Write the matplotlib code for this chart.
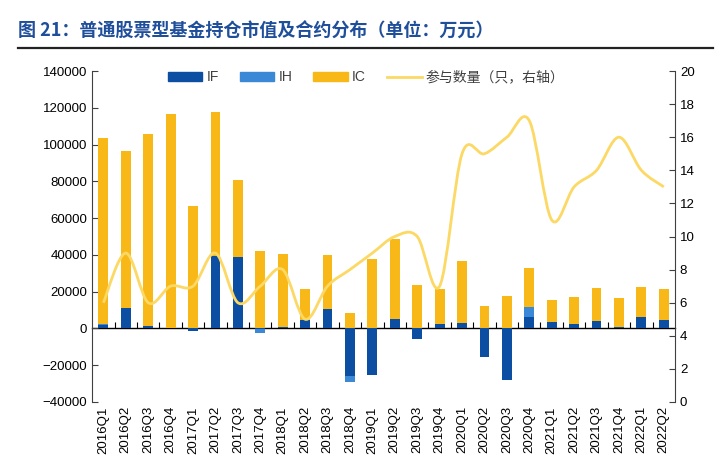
import numpy as np
import matplotlib
matplotlib.use('Agg')
import matplotlib.pyplot as plt
from matplotlib.path import Path
from matplotlib.patches import PathPatch, Patch
from matplotlib.lines import Line2D

plt.rcParams['font.family'] = ['Liberation Sans', 'Noto Sans CJK SC', 'DejaVu Sans']

# data
quarters = ['2016Q1', '2016Q2', '2016Q3', '2016Q4', '2017Q1', '2017Q2', '2017Q3', '2017Q4',
            '2018Q1', '2018Q2', '2018Q3', '2018Q4', '2019Q1', '2019Q2', '2019Q3', '2019Q4',
            '2020Q1', '2020Q2', '2020Q3', '2020Q4', '2021Q1', '2021Q2', '2021Q3', '2021Q4',
            '2022Q1', '2022Q2']
IF = [2000, 11000, 1400, 500, -1600, 39500, 38700, -300, 900, 4700, 10700, -26000, -25500,
      5000, -5800, 2300, 3100, -15700, -28200, 6000, 3400, 2300, 3800, 900, 6000, 4700]
IH = [300, 0, 0, 0, 0, 0, 0, -2200, 0, 0, 0, -3300, 0,
      0, 0, 0, 0, 0, 0, 5600, 0, 0, 0, 0, 0, 0]
IC = [101000, 85600, 104200, 116300, 66700, 78200, 41800, 42000, 39400, 17000, 29100, 8300, 37600,
      43400, 23500, 19200, 33400, 12300, 17900, 21100, 11800, 15000, 18400, 15400, 16400, 16500]
num_funds = [6, 9, 6, 7, 7, 9, 6, 7, 8, 5, 7, 8, 9,
             10, 10, 7, 15, 15, 16, 17, 11, 13, 14, 16, 14, 13]

c_if = '#0B4EA2'
c_ih = '#3A88D6'
c_ic = '#F8B918'
c_line = '#FCD864'

fig = plt.figure(figsize=(7.2, 4.75), dpi=100)
ax = fig.add_axes([0.128, 0.1537, 0.8095, 0.6968])

x = np.arange(len(quarters))
pos_base = np.zeros(len(x))
neg_base = np.zeros(len(x))
for vals, col in [(IF, c_if), (IH, c_ih), (IC, c_ic)]:
    v = np.array(vals, dtype=float)
    bottom = np.where(v >= 0, pos_base, neg_base)
    ax.bar(x, v, width=0.44, bottom=bottom, color=col, zorder=2)
    pos_base = pos_base + np.clip(v, 0, None)
    neg_base = neg_base + np.clip(v, None, 0)

ax.set_xlim(-0.5, len(x) - 0.5)
ax.set_ylim(-40000, 140000)
ax.set_yticks(np.arange(-40000, 140001, 20000))
ax.tick_params(axis='y', direction='in', length=4, labelsize=9.5, color='#404040')
ax.set_xticks(x)
ax.set_xticklabels(quarters, rotation=90, fontsize=9.5)
ax.tick_params(axis='x', length=0, pad=3)
for s in ['top', 'bottom', 'right']:
    ax.spines[s].set_visible(False)
ax.spines['left'].set_color('#404040')

# category axis drawn at zero
zero_frac = (0 - ax.get_ylim()[0]) / (ax.get_ylim()[1] - ax.get_ylim()[0])
sec = ax.secondary_xaxis(zero_frac)
sec.set_xticks(x[:-1] + 0.5)
sec.tick_params(axis='x', direction='in', length=4, labelbottom=False, labeltop=False, color='black')
sec.spines['bottom'].set_color('black')
sec.spines['bottom'].set_linewidth(1.0)

# right axis: smoothed line
ax2 = ax.twinx()
ax2.set_ylim(0, 20)
ax2.set_yticks(np.arange(0, 21, 2))
ax2.tick_params(axis='y', direction='in', length=4, labelsize=9.5, color='#404040')
for s in ['top', 'bottom', 'left']:
    ax2.spines[s].set_visible(False)
ax2.spines['right'].set_color('#404040')

y = np.array(num_funds, dtype=float)
verts = [(x[0], y[0])]
codes = [Path.MOVETO]
t = 1 / 6
for i in range(len(x) - 1):
    p0 = (x[max(i - 1, 0)], y[max(i - 1, 0)])
    p1 = (x[i], y[i])
    p2 = (x[i + 1], y[i + 1])
    p3 = (x[min(i + 2, len(x) - 1)], y[min(i + 2, len(x) - 1)])
    c1 = (p1[0] + (p2[0] - p0[0]) * t, p1[1] + (p2[1] - p0[1]) * t)
    c2 = (p2[0] - (p3[0] - p1[0]) * t, p2[1] - (p3[1] - p1[1]) * t)
    verts += [c1, c2, p2]
    codes += [Path.CURVE4] * 3
ax2.add_patch(PathPatch(Path(verts, codes), facecolor='none', edgecolor=c_line, lw=2.0, zorder=3))

handles = [Patch(color=c_if), Patch(color=c_ih), Patch(color=c_ic),
           Line2D([], [], color=c_line, lw=2.0)]
labels = ['IF', 'IH', 'IC', '参与数量（只，右轴）']
leg = ax.legend(handles, labels, ncol=4, loc='upper center', bbox_to_anchor=(0.47, 1.04),
                frameon=False, fontsize=10, handlelength=2.5, handleheight=0.55,
                handletextpad=0.3, columnspacing=1.5)
for txt in leg.get_texts():
    txt.set_color('#404040')

# title and rule
fig.text(0.025, 0.922, '图 21：普通股票型基金持仓市值及合约分布（单位：万元）', fontsize=13,
         fontweight='bold', color='#1F4E9A', family=['Noto Sans CJK SC', 'DejaVu Sans'])
fig.add_artist(Line2D([0.025, 0.99], [0.9, 0.9], color='#222222', lw=1.6))

fig.savefig('out.png', dpi=100)
